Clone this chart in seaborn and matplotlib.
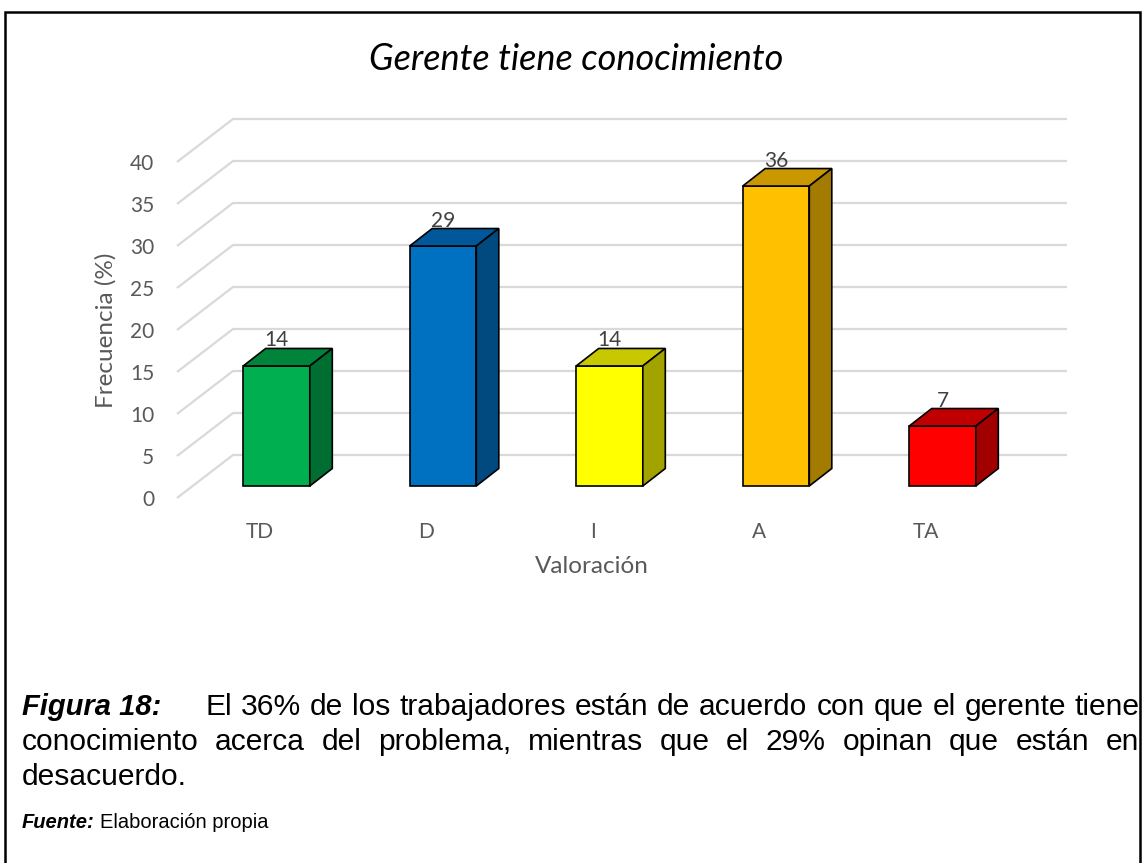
import matplotlib
matplotlib.use("Agg")
import numpy as np
import pandas as pd
import matplotlib.pyplot as plt
import seaborn as sns
from matplotlib.patches import Polygon, Rectangle

# Data (14 workers -> 2, 4, 2, 5, 1)
categories = ["TD", "D", "I", "A", "TA"]
frecuencia = [14.29, 28.57, 14.29, 35.71, 7.14]
front_colors = ["#00b050", "#0070c0", "#ffff00", "#ffc000", "#ff0000"]
top_colors = ["#00843c", "#00589a", "#c8c800", "#c99700", "#c00000"]
side_colors = ["#006e30", "#004a80", "#a3a300", "#a37b00", "#a00000"]
y_ticks = [0, 5, 10, 15, 20, 25, 30, 35, 40]

title = "Gerente tiene conocimiento"
caption_label = "Figura 18:"
caption_lines = [
    "El 36% de los trabajadores están de acuerdo con que el gerente tiene",
    "conocimiento acerca del problema, mientras que el 29% opinan que están en",
    "desacuerdo.",
]
source_label = "Fuente:"
source_text = "Elaboración propia"

W, H = 1142, 863
GREY = "#595959"

# layout of the fake 3D box (in reference pixels)
PX_CAT = 166.5      # distance between categories
PX_UNIT = 8.4       # pixels per 1 %
X0_PX, Y0_PX = 276.5, 486   # bar-plane origin


def dx(p):
    return p / PX_CAT


def dy(p):
    return p / PX_UNIT


df = pd.DataFrame({"valoracion": categories, "frecuencia": frecuencia})

sns.set_style("white")
plt.rcParams["font.family"] = ["Lato", "DejaVu Sans"]

fig = plt.figure(figsize=(W / 100, H / 100), dpi=100)
ax = fig.add_axes([177 / W, 1 - 498 / H, (1080 - 177) / W, (498 - 100) / H])

sns.barplot(
    data=df, x="valoracion", y="frecuencia", hue="valoracion",
    palette=front_colors, width=0.4, edgecolor="black", linewidth=1.2,
    saturation=1, legend=False, ax=ax, zorder=3,
)

ax.set_xlim(dx(177 - X0_PX), dx(1080 - X0_PX))
ax.set_ylim(-dy(498 - Y0_PX), dy(Y0_PX - 100))

# gridlines drawn as floor-to-back-wall lines
x_front = dx(177 - X0_PX)
x_back_right = dx(1067 - X0_PX)
floor = -dy(498 - Y0_PX)
for v in y_ticks:
    yf = v + floor
    yb = yf + dy(43)
    ax.plot([x_front, x_front + dx(56), x_back_right], [yf, yb, yb],
            color="#d9d9d9", lw=1.6, zorder=0, clip_on=False,
            solid_capstyle="butt")

# 3D faces of every bar
ddx, ddy = dx(22.5), dy(17.5)
for patch, val, tc, sc in zip(ax.patches, frecuencia, top_colors, side_colors):
    x0 = patch.get_x()
    w = patch.get_width()
    h = patch.get_height()
    top = Polygon([(x0, h), (x0 + w, h), (x0 + w + ddx, h + ddy), (x0 + ddx, h + ddy)],
                  closed=True, facecolor=tc, edgecolor="black", lw=1.2, zorder=3)
    side = Polygon([(x0 + w, 0), (x0 + w + ddx, ddy), (x0 + w + ddx, h + ddy), (x0 + w, h)],
                   closed=True, facecolor=sc, edgecolor="black", lw=1.2, zorder=3)
    ax.add_patch(top)
    ax.add_patch(side)
    ax.text(x0 + w / 2, h + ddy + dy(2), f"{val:.0f}", ha="center", va="baseline",
            fontsize=15, color="#404040", zorder=4)

ax.set_yticks([v + floor for v in y_ticks], labels=[str(v) for v in y_ticks])
ax.set_xticks(np.arange(len(categories)) - dx(16.5), labels=categories)
ax.tick_params(axis="y", length=0, pad=16.5, labelsize=15, labelcolor=GREY)
ax.tick_params(axis="x", length=0, pad=17, labelsize=15, labelcolor=GREY)

ax.set_ylabel("Frecuencia (%)", fontsize=17.5, color=GREY)
ax.set_xlabel("Valoración", fontsize=17.5, color=GREY)
ax.yaxis.set_label_coords((117 - 177) / 903, (498 - 330) / 398)
ax.xaxis.set_label_coords((592 - 177) / 903, (498 - 556) / 398)

for s in ax.spines.values():
    s.set_visible(False)
ax.set_facecolor("none")

fig.text(576.5 / W, 1 - 59 / H, title, ha="center", va="center",
         fontsize=26, style="italic", fontweight="normal", color="black")

# frame around the figure
fig.add_artist(Rectangle((5 / W, -0.02), (1140 - 5) / W, 1.02 - 12 / H,
                         transform=fig.transFigure, fill=False,
                         edgecolor="black", lw=1.8))

# caption, justified like the word-processor text
cap_font = dict(family=["Liberation Sans", "DejaVu Sans"], fontsize=21.6, color="black")
fig.canvas.draw()
renderer = fig.canvas.get_renderer()


def place_words(words, x_left, x_right, y_base, justify=True):
    arts = [fig.text(0, 1 - y_base / H, w, va="baseline", ha="left", **cap_font) for w in words]
    widths = [a.get_window_extent(renderer).width for a in arts]
    if justify and len(words) > 1:
        gap = (x_right - x_left - sum(widths)) / (len(words) - 1)
    else:
        gap = fig.text(0, 0, " ", **cap_font).get_window_extent(renderer).width
    x = x_left
    for a, wd in zip(arts, widths):
        a.set_x(x / W)
        x += wd + gap


fig.text(22 / W, 1 - 715 / H, caption_label, va="baseline", ha="left",
         family=["Liberation Sans", "DejaVu Sans"], fontsize=21,
         fontweight="bold", style="italic", color="black")
place_words(caption_lines[0].split(), 205, 1140, 715)
place_words(caption_lines[1].split(), 22, 1139, 750)
place_words(caption_lines[2].split(), 22, 1139, 785, justify=False)

lab = fig.text(22 / W, 1 - 828 / H, source_label, va="baseline", ha="left",
               family=["Liberation Sans", "DejaVu Sans"], fontsize=14.5,
               fontweight="bold", style="italic", color="black")
lw_px = lab.get_window_extent(renderer).width
fig.text((22 + lw_px + 5) / W, 1 - 828 / H, source_text, va="baseline", ha="left",
         family=["Liberation Sans", "DejaVu Sans"], fontsize=14.5, color="black")

fig.savefig("out.png", dpi=100)
